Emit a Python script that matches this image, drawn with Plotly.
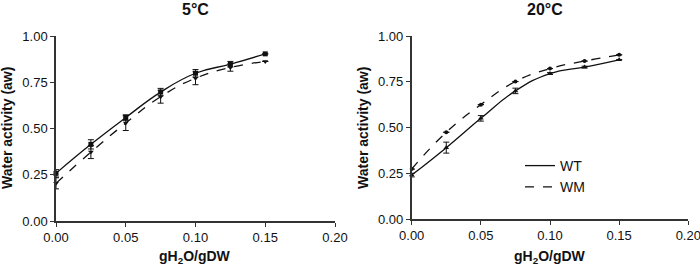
import plotly.graph_objects as go

moisture = [0.0, 0.025, 0.05, 0.075, 0.10, 0.125, 0.15]

# 5 °C
wt_5 = [0.258, 0.415, 0.56, 0.698, 0.80, 0.849, 0.905]
wt_5_err = [0.02, 0.025, 0.015, 0.02, 0.02, 0.015, 0.0]
wm_5 = [0.204, 0.373, 0.53, 0.673, 0.773, 0.831, 0.864]
wm_5_err = [0.03, 0.035, 0.04, 0.035, 0.035, 0.02, 0.0]

# 20 °C
wt_20 = [0.24, 0.39, 0.55, 0.70, 0.795, 0.83, 0.87]
wt_20_err = [0.01, 0.03, 0.015, 0.015, 0.005, 0.005, 0.0]
wm_20 = [0.273, 0.474, 0.625, 0.751, 0.822, 0.863, 0.897]
wm_20_err = [0.0, 0.0, 0.0, 0.0, 0.0, 0.0, 0.0]

x_ticks = [0.0, 0.05, 0.10, 0.15, 0.20]
x_ticklabels = ["0.00", "0.05", "0.10", "0.15", "0.20"]
y_ticks = [0.0, 0.25, 0.50, 0.75, 1.00]
y_ticklabels = ["0.00", "0.25", "0.50", "0.75", "1.00"]

FONT = "Liberation Sans, Arial, sans-serif"
BLACK = "#111111"

fig = go.Figure()


def add_series(x, y, err, dash, symbol, size, xa, ya):
    fig.add_trace(go.Scatter(
        x=x, y=y, mode="lines+markers",
        line=dict(color=BLACK, width=1.3, dash=dash, shape="spline", smoothing=1.3),
        marker=dict(symbol=symbol, size=size, color=BLACK),
        error_y=dict(type="data", array=err, visible=True, color=BLACK,
                     thickness=1, width=3),
        xaxis=xa, yaxis=ya, showlegend=False, cliponaxis=False,
    ))


add_series(moisture, wt_5, wt_5_err, "solid", "square", 5, "x", "y")
add_series(moisture, wm_5, wm_5_err, "dash", "triangle-down", 5, "x", "y")
add_series(moisture, wt_20, wt_20_err, "solid", "triangle-up", 5, "x2", "y2")
add_series(moisture, wm_20, wm_20_err, "dash", "circle", 4, "x2", "y2")

# legend entries (lines only)
fig.add_trace(go.Scatter(x=[None], y=[None], mode="lines", name="WT",
                         line=dict(color=BLACK, width=1.3), xaxis="x2", yaxis="y2"))
fig.add_trace(go.Scatter(x=[None], y=[None], mode="lines", name="WM",
                         line=dict(color=BLACK, width=1.3, dash="dash"),
                         xaxis="x2", yaxis="y2"))

axis_common = dict(
    showgrid=False, zeroline=False, showline=True, linecolor="#333333",
    linewidth=1.5, ticks="outside", ticklen=4, tickwidth=1.3, tickcolor="#333333",
    tickfont=dict(family=FONT, size=13, color=BLACK), automargin=False,
    ticklabeloverflow="allow",
)

fig.update_layout(
    width=700, height=266,
    margin=dict(l=0, r=0, t=0, b=0, autoexpand=False),
    paper_bgcolor="white", plot_bgcolor="white",
    xaxis=dict(domain=[56 / 700, 335 / 700], range=[0, 0.2], tickvals=x_ticks,
               ticktext=x_ticklabels, anchor="y", **axis_common),
    yaxis=dict(domain=[45 / 266, 229.7 / 266], range=[0, 1.0], tickvals=y_ticks,
               ticktext=y_ticklabels, anchor="x", **axis_common),
    xaxis2=dict(domain=[411.7 / 700, 688.3 / 700], range=[0, 0.2], tickvals=x_ticks,
                ticktext=x_ticklabels, anchor="y2", **axis_common),
    yaxis2=dict(domain=[47 / 266, 230 / 266], range=[0, 1.0], tickvals=y_ticks,
                ticktext=y_ticklabels, anchor="x2", **axis_common),
    legend=dict(x=520 / 700, y=(266 - 150) / 266, xanchor="left", yanchor="top",
                font=dict(family=FONT, size=14, color=BLACK),
                bgcolor="rgba(0,0,0,0)"),
    font=dict(family=FONT, color=BLACK),
)

annotations = [
    dict(text="<b>5°C</b>", x=195 / 700, y=(266 - 9) / 266, font=dict(size=16)),
    dict(text="<b>20°C</b>", x=545 / 700, y=(266 - 9) / 266, font=dict(size=16)),
    dict(text="<b>gH<sub>2</sub>O/gDW</b>", x=195 / 700, y=(266 - 257) / 266, font=dict(size=14)),
    dict(text="<b>gH<sub>2</sub>O/gDW</b>", x=550 / 700, y=(266 - 257) / 266, font=dict(size=14)),
    dict(text="<b>Water activity (aw)</b>", x=7 / 700, y=(266 - 128) / 266,
         textangle=-90, font=dict(size=14)),
    dict(text="<b>Water activity (aw)</b>", x=363 / 700, y=(266 - 128) / 266,
         textangle=-90, font=dict(size=14)),
]
for a in annotations:
    a.update(xref="paper", yref="paper", showarrow=False, xanchor="center", yanchor="middle")
    a["font"].update(family=FONT, color=BLACK)
fig.update_layout(annotations=annotations)

fig.write_html(
    "out.html",
    config={"displayModeBar": False},
    post_script="document.body.style.margin='0';document.body.style.overflow='hidden';",
)
